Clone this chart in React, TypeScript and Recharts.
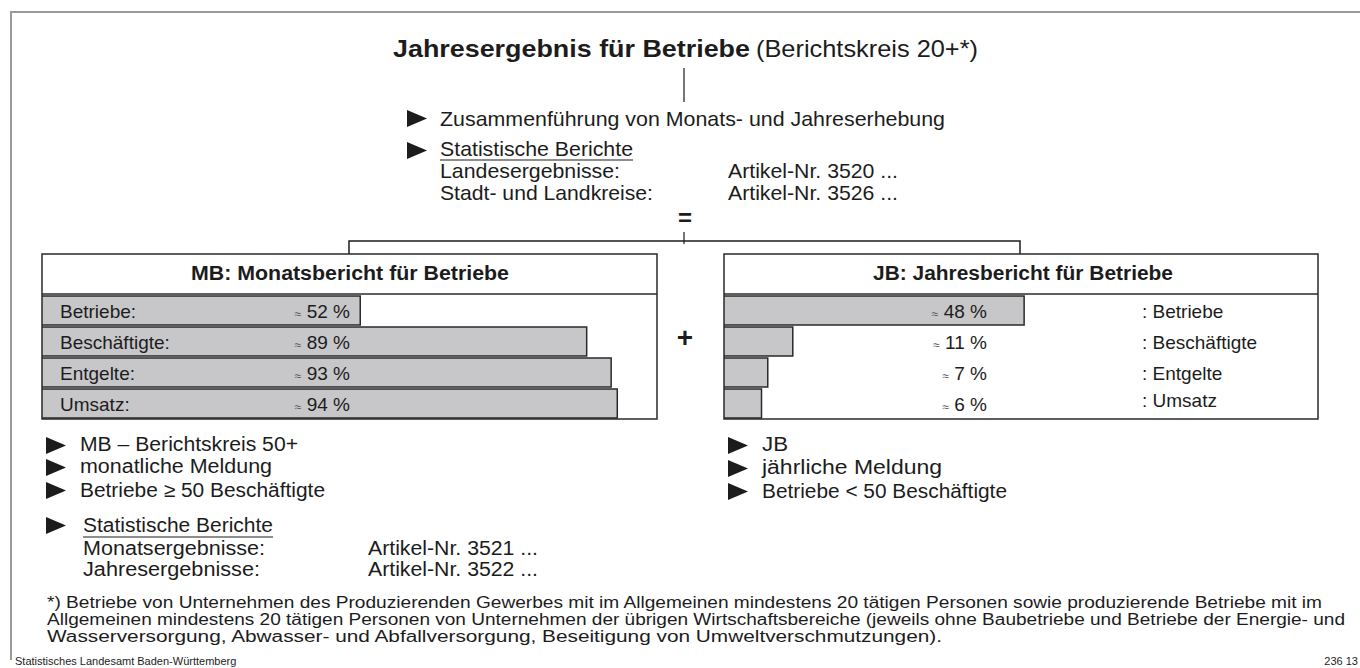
import React from 'react';
import { BarChart, Bar, XAxis, YAxis, LabelList } from 'recharts';

// Anteile Monatsbericht (MB) und Jahresbericht (JB)
const categories = ['Betriebe', 'Beschäftigte', 'Entgelte', 'Umsatz'];
const mbShares = [52, 89, 93, 94];
const jbShares = [48, 11, 7, 6];

const mbData = categories.map((name, i) => ({ name, value: mbShares[i] }));
const jbData = categories.map((name, i) => ({ name, value: jbShares[i] }));

const FONT = "'Liberation Sans', Arial, sans-serif";
const INK = '#1c1c1c';
const BAR_FILL = '#c7c7c9';

interface LabelProps {
  x?: number | string;
  y?: number | string;
  width?: number | string;
  height?: number | string;
  value?: number | string;
  index?: number;
}

const num = (v: number | string | undefined) => Number(v ?? 0);

// category name at a fixed x inside the plot
const nameLabel = (left: number, prefix: string, suffix: string, lift: number[] = []) => (props: LabelProps) => {
  const y = num(props.y) + num(props.height) / 2 - (lift[props.index ?? 0] ?? 0);
  return (
    <text x={left} y={y + 7} fontFamily={FONT} fontSize={19} fill={INK}>
      {`${prefix}${props.value ?? ''}${suffix}`}
    </text>
  );
};

// "≈ 52 %" right-aligned at a fixed x
const shareLabel = (right: number) => (props: LabelProps) => {
  const y = num(props.y) + num(props.height) / 2;
  const v = num(props.value);
  return (
    <text x={right} y={y + 7} textAnchor="end" fontFamily={FONT} fontSize={19} fill={INK}>
      <tspan fontSize={12} fill="#555">≈</tspan>
      <tspan>{v < 10 ? `   ${v} %` : ` ${v} %`}</tspan>
    </text>
  );
};

const Triangle = ({ x, y }: { x: number; y: number }) => (
  <polygon points={`${x},${y} ${x + 20},${y + 8.5} ${x},${y + 17}`} fill={INK} />
);

const T = ({
  x,
  y,
  children,
  size = 21,
  bold = false,
  anchor = 'start',
  w,
}: {
  x: number;
  y: number;
  children: React.ReactNode;
  size?: number;
  bold?: boolean;
  anchor?: 'start' | 'middle' | 'end';
  w?: number;
}) => (
  <text
    x={x}
    y={y}
    fontFamily={FONT}
    fontSize={size}
    fontWeight={bold ? 700 : 400}
    textAnchor={anchor}
    fill={INK}
    textLength={w}
    lengthAdjust={w ? 'spacingAndGlyphs' : undefined}
  >
    {children}
  </text>
);

export default function App() {
  return (
    <div style={{ position: 'absolute', left: 0, top: 0, width: 1360, height: 668, background: '#fff', overflow: 'hidden' }}>
      <svg width={1360} height={668} style={{ position: 'absolute', left: 0, top: 0 }}>
        {/* Rahmen */}
        <polyline points="11,660 11,12 1360,12" fill="none" stroke="#9a9a9a" strokeWidth={2} />

        {/* Titel */}
        <T x={393} y={57} size={24} bold w={357}>Jahresergebnis für Betriebe</T>
        <T x={756} y={57} size={24} w={222}>(Berichtskreis 20+*)</T>
        <line x1={684} y1={68} x2={684} y2={102} stroke={INK} strokeWidth={1.2} />

        <Triangle x={407} y={110} />
        <T x={440} y={126} w={505}>Zusammenführung von Monats- und Jahreserhebung</T>
        <Triangle x={407} y={142} />
        <T x={440} y={156} w={193}>Statistische Berichte</T>
        <line x1={440} y1={160} x2={633} y2={160} stroke={INK} strokeWidth={1.2} />
        <T x={440} y={178} w={180}>Landesergebnisse:</T>
        <T x={728} y={178} w={170}>Artikel-Nr. 3520 ...</T>
        <T x={440} y={200} w={213}>Stadt- und Landkreise:</T>
        <T x={728} y={200} w={170}>Artikel-Nr. 3526 ...</T>
        <T x={685} y={226} size={24} bold anchor="middle">=</T>

        {/* Klammer */}
        <line x1={684} y1={232} x2={684} y2={244} stroke={INK} strokeWidth={1.2} />
        <polyline points="349,254 349,241 1020,241 1020,254" fill="none" stroke={INK} strokeWidth={1.5} />

        {/* Kästen */}
        <rect x={42} y={254} width={615} height={165} fill="none" stroke="#2a2a2a" strokeWidth={1.5} />
        <line x1={42} y1={294} x2={657} y2={294} stroke="#2a2a2a" strokeWidth={1.5} />
        <T x={350} y={280} size={20} bold anchor="middle" w={318}>MB: Monatsbericht für Betriebe</T>

        <rect x={724} y={254} width={594} height={165} fill="none" stroke="#2a2a2a" strokeWidth={1.5} />
        <line x1={724} y1={294} x2={1318} y2={294} stroke="#2a2a2a" strokeWidth={1.5} />
        <T x={1023} y={280} size={20} bold anchor="middle" w={300}>JB: Jahresbericht für Betriebe</T>

        <T x={685} y={347} size={28} bold anchor="middle">+</T>

        {/* MB Merkmale */}
        <Triangle x={46} y={437} />
        <T x={80} y={451} size={20} w={218}>MB – Berichtskreis 50+</T>
        <Triangle x={46} y={459} />
        <T x={80} y={473} size={20} w={192}>monatliche Meldung</T>
        <Triangle x={46} y={482} />
        <T x={80} y={497} size={20} w={245}>Betriebe ≥ 50 Beschäftigte</T>
        <Triangle x={46} y={517} />
        <T x={83} y={532} size={20} w={190}>Statistische Berichte</T>
        <line x1={83} y1={537} x2={273} y2={537} stroke={INK} strokeWidth={1.2} />
        <T x={83} y={555} size={20} w={182}>Monatsergebnisse:</T>
        <T x={368} y={555} size={20} w={170}>Artikel-Nr. 3521 ...</T>
        <T x={83} y={576} size={20} w={177}>Jahresergebnisse:</T>
        <T x={368} y={576} size={20} w={170}>Artikel-Nr. 3522 ...</T>

        {/* JB Merkmale */}
        <Triangle x={728} y={437} />
        <T x={762} y={451} size={20} w={26}>JB</T>
        <Triangle x={728} y={460} />
        <T x={762} y={474} size={20} w={180}>jährliche Meldung</T>
        <Triangle x={728} y={483} />
        <T x={762} y={498} size={20} w={245}>Betriebe &lt; 50 Beschäftigte</T>

        {/* Fußnote */}
        <T x={47} y={608} size={16} w={1275}>*) Betriebe von Unternehmen des Produzierenden Gewerbes mit im Allgemeinen mindestens 20 tätigen Personen sowie produzierende Betriebe mit im</T>
        <T x={47} y={625} size={16} w={1298}>Allgemeinen mindestens 20 tätigen Personen von Unternehmen der übrigen Wirtschaftsbereiche (jeweils ohne Baubetriebe und Betriebe der Energie- und</T>
        <T x={47} y={642} size={16} w={895}>Wasserversorgung, Abwasser- und Abfallversorgung, Beseitigung von Umweltverschmutzungen).</T>

        <T x={15} y={665} size={11}>Statistisches Landesamt Baden-Württemberg</T>
        <T x={1358} y={665} size={11} anchor="end">236 13</T>
      </svg>

      <div style={{ position: 'absolute', left: 42, top: 295 }}>
        <BarChart
          layout="vertical"
          width={612}
          height={124}
          data={mbData}
          margin={{ top: 0, right: 0, bottom: 0, left: 0 }}
          barCategoryGap={1}
        >
          <XAxis type="number" domain={[0, 100]} hide />
          <YAxis type="category" dataKey="name" hide />
          <Bar dataKey="value" fill={BAR_FILL} stroke="#2a2a2a" strokeWidth={1.5} isAnimationActive={false}>
            <LabelList dataKey="name" content={nameLabel(18, '', ':')} />
            <LabelList dataKey="value" content={shareLabel(308)} />
          </Bar>
        </BarChart>
      </div>

      <div style={{ position: 'absolute', left: 724, top: 295 }}>
        <BarChart
          layout="vertical"
          width={594}
          height={124}
          data={jbData}
          margin={{ top: 0, right: 0, bottom: 0, left: 0 }}
          barCategoryGap={1}
        >
          <XAxis type="number" domain={[0, 95]} hide />
          <YAxis type="category" dataKey="name" hide />
          <Bar dataKey="value" fill={BAR_FILL} stroke="#2a2a2a" strokeWidth={1.5} isAnimationActive={false}>
            <LabelList dataKey="value" content={shareLabel(263)} />
            <LabelList dataKey="name" content={nameLabel(418, ': ', '', [0, 0, 0, 4])} />
          </Bar>
        </BarChart>
      </div>
    </div>
  );
}
